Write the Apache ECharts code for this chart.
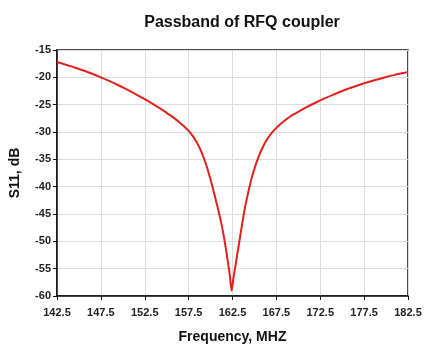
<!DOCTYPE html>
<html>
<head>
<meta charset="utf-8">
<script src="https://cdn.jsdelivr.net/npm/echarts@6/dist/echarts.min.js"></script>
<style>html,body{margin:0;padding:0;background:#fff}#c{width:425px;height:345px}</style>
</head>
<body>
<div id="c"></div>
<script>
const freq = [142.5,143.5,144.5,145.5,146.5,147.5,148.5,149.5,150.5,151.5,152.5,153.5,154.5,155,155.5,156,156.5,157,157.5,158,158.5,159,159.5,160,160.5,161,161.25,161.5,161.75,162,162.2,162.4,162.6,162.8,163,163.25,163.5,163.75,164,164.5,165,165.5,166,166.5,167,167.5,168,168.5,169,169.5,170,171,172,173,174,175,176,177,178,179,180,181,182,182.5];
const s11 = [-17.2,-17.7,-18.2,-18.75,-19.35,-20.0,-20.7,-21.45,-22.25,-23.1,-24.0,-24.95,-25.95,-26.5,-27.05,-27.65,-28.3,-29.0,-29.8,-30.8,-32.1,-33.8,-36.0,-38.7,-41.8,-45.1,-46.9,-49.0,-51.4,-54.0,-56.3,-59.0,-56.8,-54.8,-52.8,-50.3,-47.8,-45.4,-43.2,-39.6,-36.7,-34.4,-32.6,-31.2,-30.1,-29.25,-28.5,-27.85,-27.25,-26.75,-26.3,-25.4,-24.6,-23.85,-23.15,-22.5,-21.9,-21.35,-20.85,-20.4,-19.95,-19.55,-19.2,-19.0];
const xTicks = {min:142.5, max:182.5, step:5};
const yTicks = {min:-60, max:-15, step:5};

const data = freq.map((f,i)=>[f,s11[i]]);
const chart = echarts.init(document.getElementById('c'));
const font = '"Liberation Sans", Arial, sans-serif';
chart.setOption({
  animation:false,
  title:{text:'Passband of RFQ coupler', left:237, top:10, textAlign:'center',
    textStyle:{fontFamily:font, fontWeight:'bold', fontSize:16, color:'#111'}},
  grid:{left:57, right:17, top:50, bottom:49, outerBoundsMode:'none', containLabel:false,
    show:true, borderColor:'#111', borderWidth:1.5, backgroundColor:'#fff'},
  xAxis:{type:'value', min:xTicks.min, max:xTicks.max, interval:xTicks.step,
    name:'Frequency, MHZ', nameLocation:'middle', nameGap:34,
    nameTextStyle:{fontFamily:font, fontWeight:'bold', fontSize:14, color:'#111'},
    axisLine:{lineStyle:{color:'#111', width:1.5}},
    axisTick:{show:true, length:4, lineStyle:{color:'#111'}},
    axisLabel:{fontFamily:font, fontWeight:'bold', fontSize:11, color:'#222', margin:11, formatter:v=>v.toFixed(1)},
    splitLine:{show:true, lineStyle:{color:'#dcdcdc', width:1}}},
  yAxis:{type:'value', min:yTicks.min, max:yTicks.max, interval:yTicks.step,
    name:'S11, dB', nameLocation:'middle', nameGap:35,
    nameTextStyle:{fontFamily:font, fontWeight:'bold', fontSize:14, color:'#111'},
    axisLine:{show:true, lineStyle:{color:'#111', width:1.5}},
    axisTick:{show:true, length:4, lineStyle:{color:'#111'}},
    axisLabel:{fontFamily:font, fontWeight:'bold', fontSize:11, color:'#222', margin:6},
    splitLine:{show:true, lineStyle:{color:'#dcdcdc', width:1}}},
  series:[{type:'line', data:data, smooth:0.3, showSymbol:false,
    lineStyle:{color:'#e3211c', width:2}}]
});
</script>
</body>
</html>
